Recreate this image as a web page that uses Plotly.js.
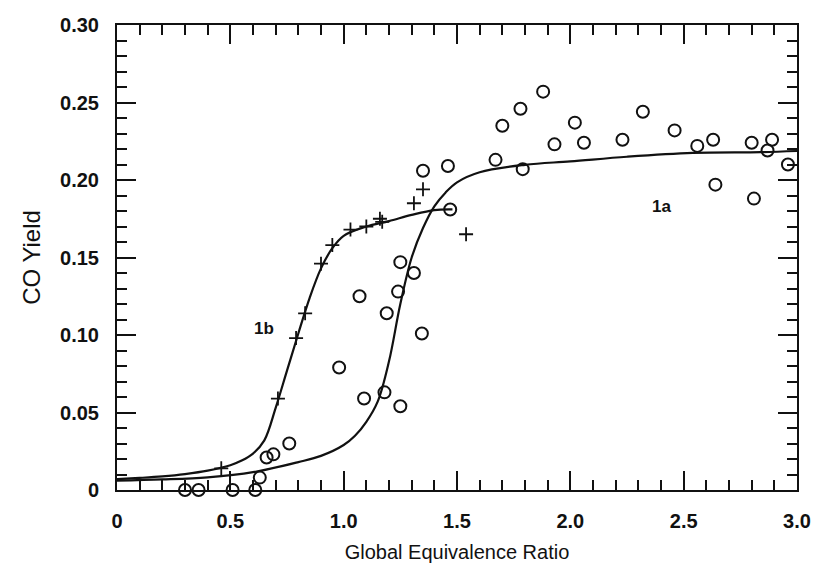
<!DOCTYPE html>
<html><head><meta charset="utf-8">
<script src="https://cdn.plot.ly/plotly-3.0.1.min.js"></script>
<style>html,body{margin:0;padding:0;background:#fff}</style>
</head><body><div id="chart" style="width:817px;height:579px"></div>
<script>
// Measured data: open circles (curve 1a data)
const circleX = [0.30,0.36,0.51,0.61,0.63,0.66,0.69,0.76,0.98,1.07,1.09,1.18,1.19,1.24,1.25,1.25,1.31,1.345,1.35,1.46,1.47,1.67,1.70,1.78,1.79,1.88,1.93,2.02,2.06,2.23,2.32,2.46,2.56,2.63,2.64,2.80,2.81,2.87,2.89,2.96];
const circleY = [0,0,0,0,0.008,0.021,0.023,0.030,0.079,0.125,0.059,0.063,0.114,0.128,0.147,0.054,0.140,0.101,0.206,0.209,0.181,0.213,0.235,0.246,0.207,0.257,0.223,0.237,0.224,0.226,0.244,0.232,0.222,0.226,0.197,0.224,0.188,0.219,0.226,0.210];
// Crosses (curve 1b data)
const crossX = [0.46,0.71,0.79,0.83,0.90,0.95,1.03,1.10,1.16,1.17,1.31,1.35,1.54];
const crossY = [0.014,0.059,0.098,0.114,0.146,0.158,0.168,0.170,0.175,0.173,0.185,0.194,0.165];
// Fitted curve 1a
const fitAX = [0,0.2,0.4,0.6,0.8,0.9,1.0,1.05,1.1,1.15,1.2,1.25,1.3,1.35,1.4,1.45,1.5,1.6,1.8,2.0,2.25,2.54,2.84,3.0];
const fitAY = [0.006,0.0068,0.0082,0.0115,0.018,0.022,0.029,0.035,0.044,0.057,0.083,0.120,0.150,0.169,0.183,0.192,0.1985,0.205,0.2098,0.212,0.215,0.2175,0.218,0.2187];
// Fitted curve 1b
const fitBX = [0,0.1,0.2,0.3,0.4,0.5,0.55,0.6,0.65,0.7,0.75,0.8,0.85,0.9,0.95,1.0,1.1,1.2,1.3,1.4,1.48];
const fitBY = [0.007,0.0078,0.0088,0.0103,0.0125,0.016,0.019,0.0235,0.032,0.053,0.077,0.101,0.124,0.143,0.156,0.164,0.170,0.1735,0.1775,0.1806,0.181];
// Tick labels
const xTickVals = [0,0.5,1.0,1.5,2.0,2.5,3.0];
const xTickText = ['0','0.5','1.0','1.5','2.0','2.5','3.0'];
const yTickVals = [0,0.05,0.10,0.15,0.20,0.25,0.30];
const yTickText = ['0','0.05','0.10','0.15','0.20','0.25','0.30'];
const curveLabels = ['1a','1b'];
const curveLabelX = [2.40,0.65];
const curveLabelY = [0.183,0.1045];

const ink = '#111';
const traces = [
  {x: fitAX, y: fitAY, mode: 'lines', line: {color: ink, width: 2.2, shape: 'spline', smoothing: 1}, hoverinfo: 'skip'},
  {x: fitBX, y: fitBY, mode: 'lines', line: {color: ink, width: 2.2, shape: 'spline', smoothing: 1}, hoverinfo: 'skip'},
  {x: circleX, y: circleY, mode: 'markers', cliponaxis: false,
   marker: {symbol: 'circle-open', size: 12, color: ink, line: {width: 2, color: ink}}},
  {x: crossX, y: crossY, mode: 'markers', cliponaxis: false,
   marker: {symbol: 'cross-thin-open', size: 10, color: ink, line: {width: 1.8, color: ink}}}
];

const tickFont = {family: 'Liberation Sans, Arial, sans-serif', size: 20, color: ink, weight: 'bold'};
const titleFont = {family: 'Liberation Sans, Arial, sans-serif', size: 20, color: ink};

const layout = {
  width: 817, height: 579,
  margin: {l: 117, r: 20, t: 25, b: 89},
  paper_bgcolor: '#fff', plot_bgcolor: '#fff',
  showlegend: false,
  xaxis: {
    range: [0, 3], tickmode: 'array', tickvals: xTickVals, ticktext: xTickText,
    ticks: 'inside', ticklen: 19, tickwidth: 2, tickcolor: ink,
    showline: true, linewidth: 2, linecolor: ink, mirror: 'allticks',
    showgrid: false, zeroline: false, tickfont: tickFont, ticklabelstandoff: 12,
    minor: {tickmode: 'linear', tick0: 0, dtick: 0.1, ticks: 'inside', ticklen: 10, tickwidth: 2, tickcolor: ink, showgrid: false},
    title: {text: 'Global Equivalence Ratio', font: titleFont, standoff: 14}
  },
  yaxis: {
    range: [0, 0.30], tickmode: 'array', tickvals: yTickVals, ticktext: yTickText,
    ticks: 'inside', ticklen: 19, tickwidth: 2, tickcolor: ink,
    showline: true, linewidth: 2, linecolor: ink, mirror: 'allticks',
    showgrid: false, zeroline: false, tickfont: tickFont, ticklabelstandoff: 12,
    minor: {tickmode: 'linear', tick0: 0, dtick: 0.01, ticks: 'inside', ticklen: 10, tickwidth: 2, tickcolor: ink, showgrid: false},
    title: {text: 'CO Yield', font: {family: 'Liberation Sans, Arial, sans-serif', size: 24, color: ink}, standoff: 13}
  },
  annotations: curveLabels.map((t, i) => ({
    x: curveLabelX[i], y: curveLabelY[i], xref: 'x', yref: 'y', text: t, showarrow: false,
    font: {family: 'Liberation Sans, Arial, sans-serif', size: 17, color: ink, weight: 'bold'}
  }))
};

Plotly.newPlot('chart', traces, layout, {displayModeBar: false, staticPlot: true});
</script>
</body></html>
